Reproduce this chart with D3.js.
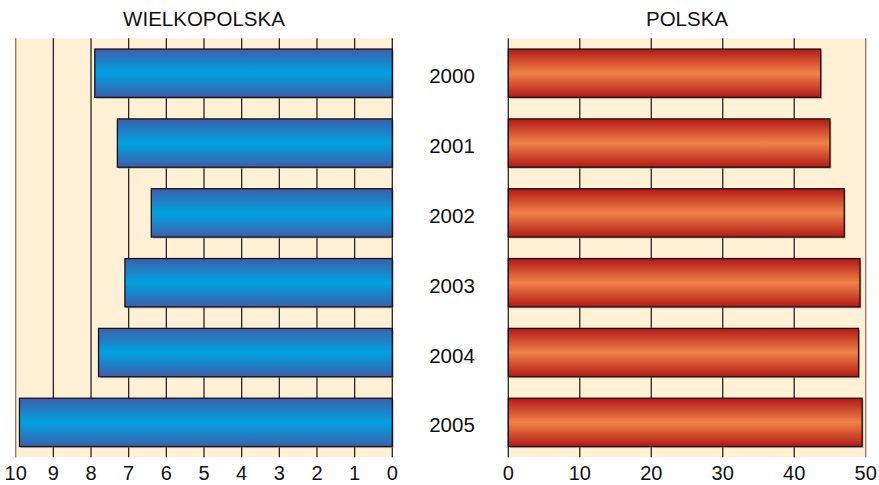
<!DOCTYPE html>
<html><head><meta charset="utf-8">
<script src="https://cdn.jsdelivr.net/npm/d3@7"></script>
<style>body{margin:0;background:#fff;}svg{display:block;font-family:"Liberation Sans",Arial,sans-serif;}</style>
</head><body>
<svg id="c" width="879" height="485"></svg>
<script>
const years = ["2000","2001","2002","2003","2004","2005"];
const wielkopolska = [7.9, 7.3, 6.4, 7.1, 7.8, 9.9];
const polska = [43.7, 45.0, 47.0, 49.2, 49.0, 49.5];
const leftTicks = [10,9,8,7,6,5,4,3,2,1,0];
const rightTicks = [0,10,20,30,40,50];

const svg = d3.select("#c");
const defs = svg.append("defs");
function grad(id, edge, mid){
  const g = defs.append("linearGradient").attr("id",id).attr("x1",0).attr("y1",0).attr("x2",0).attr("y2",1);
  g.append("stop").attr("offset","0%").attr("stop-color",edge);
  g.append("stop").attr("offset","50%").attr("stop-color",mid);
  g.append("stop").attr("offset","100%").attr("stop-color",edge);
}
grad("gb","#3d5fac","#00a2e0");
grad("gr","#b01a16","#f28247");

const plotTop = 38.3, plotBottom = 457.3;
const y = d3.scaleBand().domain(years).range([plotTop,plotBottom]).paddingInner(0.308).paddingOuter(0.154);
const xl = d3.scaleLinear().domain([10,0]).range([15.7,392.3]);
const xr = d3.scaleLinear().domain([0,50]).range([508.3,865.7]);

function panel(x, ticks, data, gid, title, edgeVal){
  const g = svg.append("g");
  const [r0,r1] = x.range();
  g.append("rect").attr("x",Math.min(r0,r1)).attr("y",plotTop).attr("width",Math.abs(r1-r0)).attr("height",plotBottom-plotTop).attr("fill","#fff0d6");
  g.selectAll("line.grid").data(ticks).join("line")
    .attr("x1",d=>x(d)).attr("x2",d=>x(d)).attr("y1",plotTop).attr("y2",plotBottom)
    .attr("stroke",d=>d===edgeVal?"#85796b":"#2a2520").attr("stroke-width",1.3);
  const zero = x(0);
  g.selectAll("rect.sh").data(data).join("rect")
    .attr("x",(d)=>Math.min(x(d),zero)+1.5).attr("y",(d,i)=>y(years[i])+1.5)
    .attr("width",d=>Math.abs(x(d)-zero)).attr("height",y.bandwidth())
    .attr("fill","#9a9080").attr("opacity",0.6);
  g.selectAll("rect.bar").data(data).join("rect")
    .attr("x",(d)=>Math.min(x(d),zero)).attr("y",(d,i)=>y(years[i]))
    .attr("width",d=>Math.abs(x(d)-zero)).attr("height",y.bandwidth())
    .attr("fill",`url(#${gid})`).attr("stroke","#1a1010").attr("stroke-width",1.3);
  g.selectAll("text.tick").data(ticks).join("text")
    .attr("x",d=>x(d)).attr("y",479.5).attr("text-anchor","middle")
    .attr("font-size",20).attr("fill","#111").text(d=>d);
  g.append("text").attr("x",(r0+r1)/2).attr("y",26).attr("text-anchor","middle")
    .attr("font-size",20.5).attr("fill","#111").text(title);
}
panel(xl, leftTicks, wielkopolska, "gb", "WIELKOPOLSKA", 10);
panel(xr, rightTicks, polska, "gr", "POLSKA", 50);

svg.selectAll("text.year").data(years).join("text")
  .attr("x",452).attr("y",d=>y(d)+y.bandwidth()/2+10).attr("text-anchor","middle")
  .attr("font-size",20.5).attr("fill","#111").text(d=>d);
</script>
</body></html>
